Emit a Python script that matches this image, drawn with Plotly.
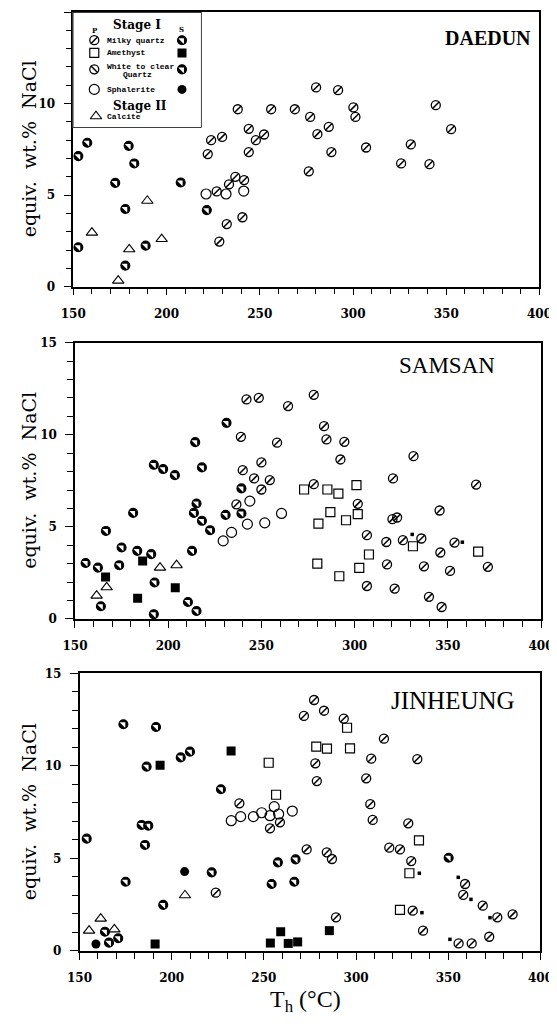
import plotly.graph_objects as go

# ---------------- DATA (Th in deg C, salinity in equiv. wt.% NaCl) ----------------
X_TICKS = [150, 200, 250, 300, 350, 400]
Y_TICKS = [0, 5, 10, 15]
PANELS = ["DAEDUN", "SAMSAN", "JINHEUNG"]

# DAEDUN
DA_MILKY_P_T = [280.2, 292.0, 300.2, 301.3, 307.0, 238.2, 256.1, 268.8, 277.0, 287.0, 280.9, 288.4, 276.3,
                244.1, 247.9, 252.3, 244.1, 223.9, 229.8, 222.1, 226.9, 233.5, 236.9, 241.6, 240.7, 232.3,
                228.3, 344.4, 352.6, 331.0, 325.8, 341.0]
DA_MILKY_P_S = [10.88, 10.73, 9.79, 9.27, 7.60, 9.69, 9.69, 9.69, 9.27, 8.73, 8.33, 7.35, 6.30,
                8.62, 8.00, 8.31, 7.35, 8.00, 8.18, 7.24, 5.20, 5.59, 6.00, 5.82, 3.79, 3.42,
                2.46, 9.91, 8.60, 7.77, 6.73, 6.69]
DA_QTZ_S_T = [152.7, 157.5, 179.7, 182.7, 172.5, 177.9, 207.6, 152.7, 188.8, 177.9, 221.6]
DA_QTZ_S_S = [7.13, 7.86, 7.69, 6.73, 5.67, 4.24, 5.69, 2.15, 2.24, 1.15, 4.18]
DA_SPH_P_T = [221.2, 231.9, 241.4]
DA_SPH_P_S = [5.06, 5.06, 5.22]
DA_CAL_T = [160.0, 189.7, 180.0, 197.4, 174.1]
DA_CAL_S = [2.95, 4.69, 2.04, 2.60, 0.33]

# SAMSAN
SA_MILKY_P_T = [242.0, 248.6, 264.3, 239.0, 258.4, 240.0, 250.0, 246.1, 254.5, 250.0, 236.6,
                278.1, 283.6, 284.9, 294.5, 292.4, 331.6, 320.6, 365.2, 278.1, 301.7, 345.6, 320.3,
                322.8, 306.6, 317.0, 325.9, 335.8, 353.6, 346.0, 317.4, 337.2, 351.2, 371.5, 306.6,
                321.5, 339.9, 346.7]
SA_MILKY_P_S = [11.92, 12.01, 11.56, 9.89, 9.57, 8.08, 8.50, 7.63, 7.54, 7.03, 6.22,
                12.17, 10.47, 9.75, 9.62, 8.66, 8.84, 7.63, 7.30, 7.32, 6.25, 5.89, 5.42,
                5.51, 4.55, 4.18, 4.28, 4.37, 4.15, 3.61, 2.96, 2.86, 2.61, 2.83, 1.79,
                1.65, 1.20, 0.65]
SA_QTZ_S_T = [155.7, 162.3, 166.6, 163.9, 175.0, 173.7, 181.2, 183.4, 190.9, 192.3, 197.3, 203.6, 192.7,
              192.3, 210.6, 215.2, 212.8, 214.5, 218.1, 215.2, 213.8, 218.1, 222.5, 231.3, 230.8, 239.3,
              239.3]
SA_QTZ_S_S = [3.04, 2.79, 4.78, 0.69, 3.88, 2.92, 5.76, 3.70, 3.52, 8.37, 8.14, 7.81, 1.98,
              0.26, 0.92, 0.43, 3.70, 9.60, 8.23, 6.27, 5.76, 5.33, 4.82, 10.65, 5.65, 7.09,
              5.73]
SA_AME_S_T = [166.4, 186.3, 183.6, 203.8]
SA_AME_S_S = [2.28, 3.15, 1.12, 1.69]
SA_CAL_T = [161.6, 167.0, 195.6, 204.5]
SA_CAL_S = [1.27, 1.72, 2.79, 2.92]
SA_SPH_P_T = [229.5, 234.0, 243.8, 242.5, 251.8, 260.8]
SA_SPH_P_S = [4.24, 4.70, 6.40, 5.15, 5.22, 5.73]
SA_AME_P_T = [272.9, 285.4, 291.3, 301.0, 287.0, 301.7, 280.6, 295.4, 331.3, 307.7, 366.3, 280.0, 302.5, 291.8]
SA_AME_P_S = [7.03, 7.03, 6.81, 7.27, 5.80, 5.69, 5.18, 5.36, 3.95, 3.50, 3.66, 3.01, 2.77, 2.32]
SA_SMALL_T = [330.9, 357.8]
SA_SMALL_S = [4.59, 4.17]

# JINHEUNG
JI_MILKY_P_T = [236.7, 223.9, 253.3, 258.7, 277.2, 271.7, 282.6, 293.3, 277.9, 278.7, 315.1, 308.2,
                333.2, 305.5, 307.7, 309.0, 328.3, 273.2, 284.1, 286.9, 318.0, 323.8, 329.9, 289.1,
                336.3, 359.1, 358.1, 368.7, 376.6, 384.9, 372.2, 330.7, 355.6, 362.7]
JI_MILKY_P_S = [7.98, 3.15, 6.63, 6.95, 13.56, 12.70, 12.98, 12.55, 10.14, 9.18, 11.47, 10.39,
                10.37, 9.33, 7.93, 7.08, 6.90, 5.49, 5.33, 4.97, 5.58, 5.49, 4.86, 1.82,
                1.10, 3.62, 3.03, 2.45, 1.82, 1.98, 0.77, 2.18, 0.41, 0.41]
JI_QTZ_S_T = [153.9, 173.8, 191.5, 186.4, 204.9, 209.9, 183.7, 187.3, 185.5, 175.0, 195.4, 221.7,
              226.7, 163.8, 166.0, 171.0, 257.6, 254.2, 267.2, 266.5, 350.2]
JI_QTZ_S_S = [6.07, 12.25, 12.10, 9.96, 10.46, 10.77, 6.81, 6.77, 5.73, 3.74, 2.49, 4.25,
              8.74, 1.04, 0.45, 0.69, 4.79, 3.62, 4.95, 3.74, 5.04]
JI_SPH_S_T = [158.9, 207.0]
JI_SPH_S_S = [0.38, 4.29]
JI_AME_S_T = [193.7, 232.2, 191.0, 253.5, 259.1, 263.2, 268.3, 285.5]
JI_AME_S_S = [10.03, 10.80, 0.38, 0.43, 1.04, 0.41, 0.49, 1.10]
JI_CAL_T = [155.2, 161.5, 168.9, 207.2]
JI_CAL_S = [1.10, 1.75, 1.17, 3.01]
JI_SPH_P_T = [232.3, 237.4, 244.3, 248.8, 253.3, 255.6, 258.0, 265.4]
JI_SPH_P_S = [7.04, 7.26, 7.26, 7.47, 7.31, 7.80, 7.40, 7.56]
JI_AME_P_T = [252.6, 256.6, 278.4, 284.2, 296.7, 295.1, 334.1, 328.9, 323.8]
JI_AME_P_S = [10.17, 8.44, 11.04, 10.93, 10.95, 12.06, 5.98, 4.20, 2.22]
JI_SMALL_T = [334.3, 335.7, 355.4, 362.3, 372.6, 350.9]
JI_SMALL_S = [4.20, 2.07, 3.98, 2.79, 1.80, 0.63]

# ---------------- STYLE ----------------
BLACK = "black"
MS = 9

fig = go.Figure()


def add_kind(xs, ys, kind, xa, ya):
    common = dict(x=xs, y=ys, mode="markers", xaxis=xa, yaxis=ya,
                  showlegend=False, hoverinfo="skip")
    if kind in ("milky_p", "clear_p"):
        fig.add_trace(go.Scatter(**common, marker=dict(symbol="circle-open", size=MS, color=BLACK,
                                                       line=dict(width=1.3, color=BLACK))))
        fig.add_trace(go.Scatter(**common, marker=dict(symbol="line-ne" if kind == "milky_p" else "line-nw",
                                                       size=7, color=BLACK,
                                                       line=dict(width=1.5, color=BLACK))))
    elif kind == "qtz_s":
        fig.add_trace(go.Scatter(**common, marker=dict(symbol="circle", size=MS, color=BLACK,
                                                       line=dict(width=0))))
        fig.add_trace(go.Scatter(**common, marker=dict(symbol="triangle-ne", size=6.4, color="white",
                                                       line=dict(width=0))))
        fig.add_trace(go.Scatter(**common, marker=dict(symbol="circle-open", size=MS, color=BLACK,
                                                       line=dict(width=1.1, color=BLACK))))
    elif kind == "sph_p":
        fig.add_trace(go.Scatter(**common, marker=dict(symbol="circle-open", size=MS + 1, color=BLACK,
                                                       line=dict(width=1.2, color=BLACK))))
    elif kind == "sph_s":
        fig.add_trace(go.Scatter(**common, marker=dict(symbol="circle", size=MS, color=BLACK,
                                                       line=dict(width=0))))
    elif kind == "ame_p":
        fig.add_trace(go.Scatter(**common, marker=dict(symbol="square-open", size=MS, color=BLACK,
                                                       line=dict(width=1.2, color=BLACK))))
    elif kind == "ame_s":
        fig.add_trace(go.Scatter(**common, marker=dict(symbol="square", size=MS, color=BLACK,
                                                       line=dict(width=0))))
    elif kind == "calcite":
        fig.add_trace(go.Scatter(**common, marker=dict(symbol="triangle-up-open", size=MS + 1, color=BLACK,
                                                       line=dict(width=1.1, color=BLACK))))
    elif kind == "small":
        fig.add_trace(go.Scatter(**common, marker=dict(symbol="square", size=3.5, color=BLACK,
                                                       line=dict(width=0))))


# DAEDUN (x/y)
add_kind(DA_MILKY_P_T, DA_MILKY_P_S, "milky_p", "x", "y")
add_kind(DA_SPH_P_T, DA_SPH_P_S, "sph_p", "x", "y")
add_kind(DA_QTZ_S_T, DA_QTZ_S_S, "qtz_s", "x", "y")
add_kind(DA_CAL_T, DA_CAL_S, "calcite", "x", "y")
# SAMSAN (x2/y2)
add_kind(SA_MILKY_P_T, SA_MILKY_P_S, "milky_p", "x2", "y2")
add_kind(SA_SPH_P_T, SA_SPH_P_S, "sph_p", "x2", "y2")
add_kind(SA_AME_P_T, SA_AME_P_S, "ame_p", "x2", "y2")
add_kind(SA_QTZ_S_T, SA_QTZ_S_S, "qtz_s", "x2", "y2")
add_kind(SA_AME_S_T, SA_AME_S_S, "ame_s", "x2", "y2")
add_kind(SA_CAL_T, SA_CAL_S, "calcite", "x2", "y2")
add_kind(SA_SMALL_T, SA_SMALL_S, "small", "x2", "y2")
# JINHEUNG (x3/y3)
add_kind(JI_MILKY_P_T, JI_MILKY_P_S, "milky_p", "x3", "y3")
add_kind(JI_SPH_P_T, JI_SPH_P_S, "sph_p", "x3", "y3")
add_kind(JI_AME_P_T, JI_AME_P_S, "ame_p", "x3", "y3")
add_kind(JI_QTZ_S_T, JI_QTZ_S_S, "qtz_s", "x3", "y3")
add_kind(JI_SPH_S_T, JI_SPH_S_S, "sph_s", "x3", "y3")
add_kind(JI_AME_S_T, JI_AME_S_S, "ame_s", "x3", "y3")
add_kind(JI_CAL_T, JI_CAL_S, "calcite", "x3", "y3")
add_kind(JI_SMALL_T, JI_SMALL_S, "small", "x3", "y3")

# ---------------- LEGEND (drawn inside top panel on a hidden axis pair) ----------------
LEG_P_X, LEG_S_X, LEG_TXT_X = 21.6, 109.3, 32.0
add_kind([LEG_P_X], [28.3], "milky_p", "x4", "y4")
add_kind([LEG_S_X], [28.3], "qtz_s", "x4", "y4")
add_kind([LEG_P_X], [41.0], "ame_p", "x4", "y4")
add_kind([LEG_S_X], [41.0], "ame_s", "x4", "y4")
add_kind([LEG_P_X], [57.5], "clear_p", "x4", "y4")
add_kind([LEG_S_X], [57.5], "qtz_s", "x4", "y4")
add_kind([LEG_P_X], [77.6], "sph_p", "x4", "y4")
add_kind([LEG_S_X], [77.6], "sph_s", "x4", "y4")
add_kind([23.3], [104.5], "calcite", "x4", "y4")

annotations = []
leg_font = dict(family="Liberation Mono", size=8, color=BLACK, weight="bold")
for txt, yy in [("Milky quartz", 28.3), ("Amethyst", 41.0), ("White to clear", 55.0),
                ("Sphalerite", 77.6), ("Calcite", 104.5)]:
    annotations.append(dict(x=LEG_TXT_X, y=yy, xref="x4", yref="y4", text=txt, showarrow=False,
                            xanchor="left", yanchor="middle", font=leg_font))
annotations.append(dict(x=48, y=62.5, xref="x4", yref="y4", text="Quartz", showarrow=False,
                        xanchor="left", yanchor="middle", font=leg_font))
for txt, xx, yy in [("Stage I", 64.6, 13.3), ("Stage II", 67.3, 94.3)]:
    annotations.append(dict(x=xx, y=yy, xref="x4", yref="y4", text=txt, showarrow=False,
                            xanchor="center", yanchor="middle",
                            font=dict(family="DejaVu Serif", size=12, color=BLACK, weight="bold")))
for txt, xx, yy in [("P", 22.3, 19.0), ("S", 109.3, 18.0)]:
    annotations.append(dict(x=xx, y=yy, xref="x4", yref="y4", text=txt, showarrow=False,
                            xanchor="center", yanchor="middle",
                            font=dict(family="DejaVu Serif", size=7, color=BLACK, weight="bold")))

# Panel names
annotations.append(dict(x=0.986, y=0.905, xref="x domain", yref="y domain", text="DAEDUN",
                        showarrow=False, xanchor="right", yanchor="middle",
                        font=dict(family="Liberation Serif", size=20, color=BLACK, weight="bold")))
annotations.append(dict(x=0.905, y=0.916, xref="x2 domain", yref="y2 domain", text="SAMSAN",
                        showarrow=False, xanchor="right", yanchor="middle",
                        font=dict(family="Liberation Serif", size=23, color=BLACK)))
annotations.append(dict(x=0.949, y=0.903, xref="x3 domain", yref="y3 domain", text="JINHEUNG",
                        showarrow=False, xanchor="right", yanchor="middle",
                        font=dict(family="Liberation Serif", size=25, color=BLACK)))

# Y titles
TOP_D = [0.7075, 1.0]
MID_D = [0.3536, 0.6478]
BOT_D = [0.0, 0.2957]
for d in (TOP_D, MID_D, BOT_D):
    annotations.append(dict(x=-0.087, y=(d[0] + d[1]) / 2, xref="paper", yref="paper",
                            text="equiv.  wt.%  NaCl", textangle=-90, showarrow=False,
                            xanchor="center", yanchor="middle",
                            font=dict(family="DejaVu Serif", size=19, color=BLACK)))
# X title (bottom of its box sits on the figure's bottom edge)
annotations.append(dict(x=0.50, y=-0.0718, xref="paper", yref="paper",
                        text="T<sub>h</sub> (°C)", showarrow=False,
                        xanchor="center", yanchor="bottom",
                        font=dict(family="Liberation Serif", size=24, color=BLACK)))

tick_font = dict(family="DejaVu Serif", size=12, color=BLACK, weight="bold")


def xaxis_cfg(domain, anchor):
    return dict(domain=domain, anchor=anchor, range=[150, 400], tickmode="array", tickvals=X_TICKS,
                ticks="outside", ticklen=7, tickwidth=1.2, tickcolor=BLACK,
                minor=dict(tickmode="linear", tick0=150, dtick=10, ticks="outside", ticklen=6,
                           tickwidth=1, tickcolor=BLACK),
                showline=True, mirror=True, linecolor=BLACK, linewidth=1.5, automargin=False,
                showgrid=False, zeroline=False, tickfont=tick_font, ticklabelstandoff=8)


def yaxis_cfg(domain, anchor):
    return dict(domain=domain, anchor=anchor, range=[0, 15], tickmode="array", tickvals=Y_TICKS,
                ticks="outside", ticklen=8, tickwidth=1.2, tickcolor=BLACK,
                minor=dict(tickmode="linear", tick0=0, dtick=1, ticks="outside", ticklen=6,
                           tickwidth=1, tickcolor=BLACK),
                showline=True, mirror=True, linecolor=BLACK, linewidth=1.5, automargin=False,
                showgrid=False, zeroline=False, tickfont=tick_font, ticklabelstandoff=6)


# The page body has an 8px margin, so the figure is sized/offset to compensate.
fig.update_layout(
    width=549, height=1011,
    margin=dict(l=62, r=16, t=4, b=68, autoexpand=False),
    paper_bgcolor="white", plot_bgcolor="white",
    showlegend=False,
    xaxis=xaxis_cfg([0.0070, 0.9968], "y"),
    yaxis=yaxis_cfg(TOP_D, "x"),
    xaxis2=xaxis_cfg([0.0106, 1.0], "y2"),
    yaxis2=yaxis_cfg(MID_D, "x2"),
    xaxis3=xaxis_cfg([0.0202, 0.9989], "y3"),
    yaxis3=yaxis_cfg(BOT_D, "x3"),
    xaxis4=dict(domain=[0.0057, 0.2796], anchor="y4", range=[0, 129], visible=False, fixedrange=True),
    yaxis4=dict(domain=[0.8768, 1.0], anchor="x4", range=[116, 0], visible=False, fixedrange=True),
    annotations=annotations,
    shapes=[dict(type="rect", xref="x4", yref="y4", x0=0, x1=129, y0=0, y1=116,
                 line=dict(color=BLACK, width=1.5), fillcolor="rgba(0,0,0,0)", layer="above")],
)

fig.write_html("out.html")
